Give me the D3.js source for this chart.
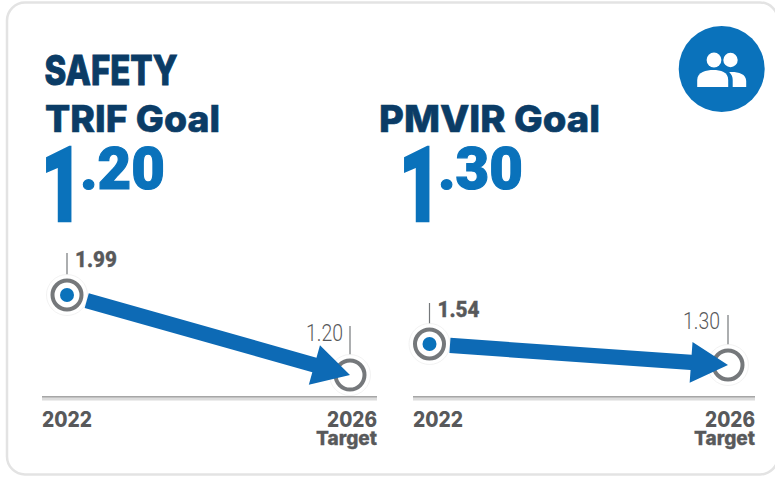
<!DOCTYPE html>
<html><head><meta charset="utf-8">
<script src="https://cdn.jsdelivr.net/npm/d3@7"></script>
<style>html,body{margin:0;padding:0;background:#fff}svg{display:block}text{font-family:Inter,Roboto,sans-serif}</style>
</head><body><svg id="c" width="775" height="477"></svg>
<script>
const years = [2022, 2026];
const chartTitles = ["TRIF Goal", "PMVIR Goal"];
const goalWhole = ["1", "1"];
const goalDecimals = [".20", ".30"];
const trifValues = [1.99, 1.20];
const pmvirValues = [1.54, 1.30];
const targetLabel = "Target";
const heading = "SAFETY";

const navy="#0b3c66", blue="#0a72bb", arrowBlue="#0d6ab5", grey="#75787b", textGrey="#58595b";
const svg=d3.select("#c");

svg.append("rect").attr("x",7).attr("y",2.5).attr("width",771).attr("height",472).attr("rx",18)
  .attr("fill","#fff").attr("stroke","#e3e3e3").attr("stroke-width",2.5);

function fit(sel,len){return sel.attr("textLength",len).attr("lengthAdjust","spacingAndGlyphs");}
function heavy(sel,col,w){return sel.attr("stroke",col).attr("stroke-width",w).attr("stroke-linejoin","miter");}

heavy(fit(svg.append("text").attr("x",44.5).attr("y",84.5).attr("font-size",41).attr("font-weight",800).attr("fill",navy).text(heading),133),navy,1);

const icon=svg.append("g").attr("transform","translate(721.7,69)");
icon.append("circle").attr("r",43).attr("fill",blue);
icon.append("circle").attr("cx",-7.7).attr("cy",-9).attr("r",7.4).attr("fill","#fff");
icon.append("circle").attr("cx",8.8).attr("cy",-9).attr("r",7.2).attr("fill","#fff");
icon.append("path").attr("fill","#fff").attr("d","M-24.5 18V11C-24.5 3-15 1-8.5 1C-1 1 6.5 3 6.5 11V18Z");
icon.append("path").attr("fill","#fff").attr("d","M11 18V11C11 8 10 5.5 7.5 3C15 2.5 24.5 4 24.5 12V18Z");

const configs=[
 {title:chartTitles[0],whole:goalWhole[0],dec:goalDecimals[0],values:trifValues,
  tx:45,tl:175,wx:41,dx:80,dl:85,
  xr:[67,350],yr:[395.3,294],axisL:25,axisR:27,
  leadS:[-42,-15],leadE:[-49,-17],boldDx:8,lightDx:-7,boldDy:-28,lightDy:-34},
 {title:chartTitles[1],whole:goalWhole[1],dec:goalDecimals[1],values:pmvirValues,
  tx:379,tl:221,wx:399,dx:438,dl:85,
  xr:[429.5,728],yr:[391.25,303.75],axisL:16.5,axisR:27,
  leadS:[-41,-16],leadE:[-50,-17],boldDx:8,lightDx:-8,boldDy:-27,lightDy:-36}
];

configs.forEach(c=>{
  const g=svg.append("g");
  heavy(fit(g.append("text").attr("x",c.tx).attr("y",132).attr("font-size",37).attr("font-weight",800).attr("fill",navy).text(c.title),c.tl),navy,.6);
  heavy(fit(g.append("text").attr("x",c.wx).attr("y",221).attr("font-size",104).attr("font-weight",900).attr("fill",blue).style("font-family","Roboto").text(c.whole),42),blue,2.5);
  heavy(fit(g.append("text").attr("x",c.dx).attr("y",188.5).attr("font-size",60).attr("font-weight",900).attr("fill",blue).style("font-family","Roboto").text(c.dec),c.dl),blue,1.2);

  const x=d3.scaleLinear().domain(d3.extent(years)).range(c.xr);
  const y=d3.scaleLinear().domain([1,2]).range(c.yr);
  const pts=years.map((yr,i)=>({yr,v:c.values[i],px:x(yr),py:y(c.values[i])}));
  const [s,e]=pts;

  const axisY=397;
  const x0=x(years[0])-c.axisL, x1=x(years[1])+c.axisR;
  g.append("rect").attr("x",x0).attr("y",axisY).attr("width",x1-x0).attr("height",3.5).attr("fill","#dcdcdc");
  g.append("rect").attr("x",x0).attr("y",axisY-1).attr("width",x1-x0).attr("height",1.5).attr("fill","#a6a6a6");

  fit(g.append("text").attr("x",x0).attr("y",427).attr("font-size",21).attr("font-weight",800).attr("fill",textGrey).text(years[0]),50);
  fit(g.append("text").attr("x",x1-50).attr("y",427).attr("font-size",21).attr("font-weight",800).attr("fill",textGrey).text(years[1]),50);
  heavy(fit(g.append("text").attr("x",x1-61).attr("y",445).attr("font-size",19).attr("font-weight",800).attr("fill",textGrey).text(targetLabel),61),textGrey,.3);

  g.append("line").attr("x1",s.px).attr("x2",s.px).attr("y1",s.py+c.leadS[0]).attr("y2",s.py+c.leadS[1]).attr("stroke",grey).attr("stroke-width",1.2);
  g.append("line").attr("x1",e.px).attr("x2",e.px).attr("y1",e.py+c.leadE[0]).attr("y2",e.py+c.leadE[1]).attr("stroke",grey).attr("stroke-width",1.2);

  pts.forEach((p,i)=>{
    g.append("circle").attr("cx",p.px).attr("cy",p.py).attr("r",20.5).attr("fill","#fff").attr("stroke","#ececec").attr("stroke-width",.7);
    g.append("circle").attr("cx",p.px).attr("cy",p.py).attr("r",14.5).attr("fill","#fff").attr("stroke",grey).attr("stroke-width",4);
    if(i===0) g.append("circle").attr("cx",p.px).attr("cy",p.py).attr("r",7).attr("fill",blue);
  });

  const dx=e.px-s.px, dy=e.py-s.py, L=Math.hypot(dx,dy), ux=dx/L, uy=dy/L, nx=-uy, ny=ux;
  const at=(a,b)=>[s.px+ux*a+nx*b, s.py+uy*a+ny*b];
  const sh=7.6, hd=20.5, st=20.5, hl=37;
  g.append("polygon").attr("fill",arrowBlue)
   .attr("points",[at(st,-sh),at(L-hl,-sh),at(L-hl,-hd),at(L,0),at(L-hl,hd),at(L-hl,sh),at(st,sh)].map(p=>p.join(",")).join(" "));

  heavy(fit(g.append("text").attr("x",s.px+c.boldDx).attr("y",s.py+c.boldDy).attr("font-size",22).attr("font-weight",800).attr("fill",textGrey).style("font-family","Roboto").text(s.v.toFixed(2)),42),textGrey,.4);
  fit(g.append("text").attr("x",e.px+c.lightDx-37).attr("y",e.py+c.lightDy).attr("font-size",23).attr("font-weight",300).attr("fill",textGrey).style("font-family","Roboto").text(e.v.toFixed(2)),37);
});
</script></body></html>
